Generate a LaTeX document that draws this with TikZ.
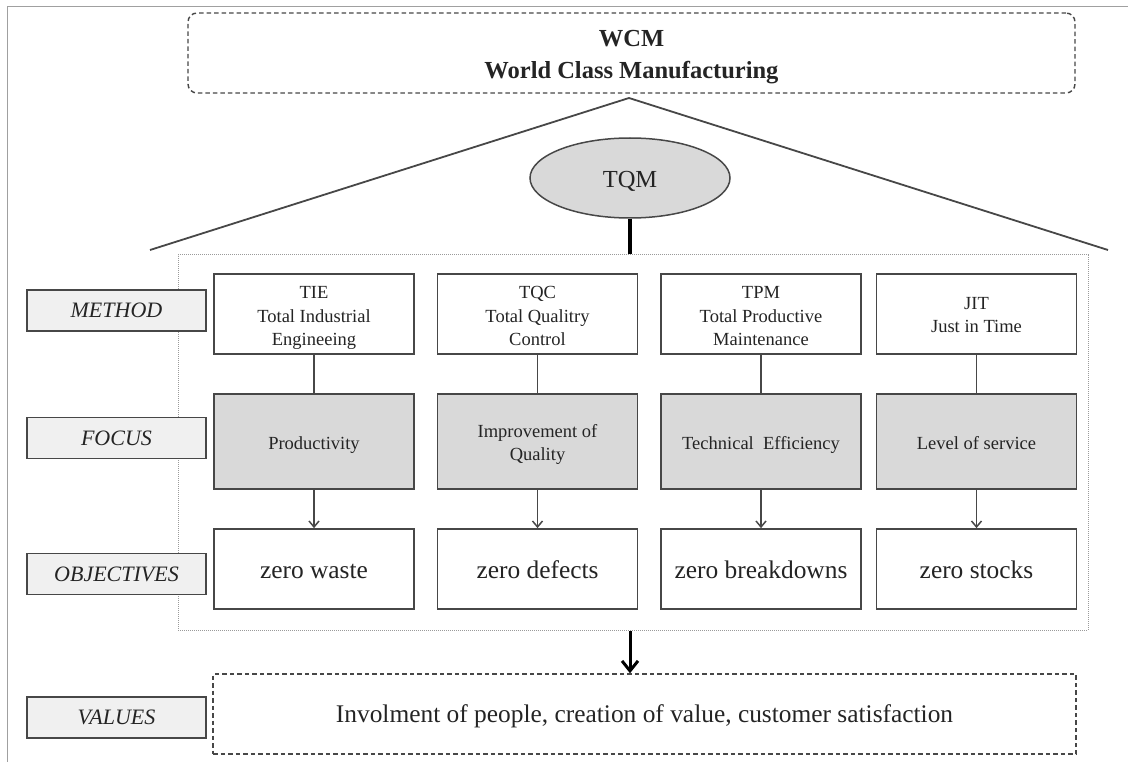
\documentclass[tikz,border=0pt]{standalone}
\usepackage{fontspec}
\setmainfont{Liberation Serif}
\usetikzlibrary{shapes.geometric,arrows.meta}
\definecolor{edge}{HTML}{474747}
\definecolor{ink}{HTML}{242424}
\definecolor{focusfill}{HTML}{D9D9D9}
\definecolor{labelfill}{HTML}{F0F0F0}
\definecolor{framegray}{HTML}{9A9A9A}
\definecolor{pagegray}{HTML}{A0A0A0}

% centred lines of box text, set a little below the box centre
\newcommand\boxlines[2][3pt]{%
  \raisebox{-#1}[\height][\depth]{\begin{tabular}{@{}c@{}}#2\end{tabular}}}

\begin{document}
\begin{tikzpicture}[x=1pt,y=-1pt,
  every node/.style={text=ink},
  methodbox/.style={draw=edge, line width=1.7pt, fill=white,
    minimum width=200pt, minimum height=80pt, inner sep=0pt,
    font=\fontsize{18.5}{23.5}\selectfont},
  focusbox/.style={methodbox, fill=focusfill, minimum height=95pt},
  objbox/.style={methodbox, font=\fontsize{25.4}{30}\selectfont},
  rowlabel/.style={draw=edge, line width=1.7pt, fill=labelfill,
    minimum width=179pt, minimum height=41pt, inner sep=0pt,
    font=\fontsize{22}{26}\selectfont\itshape},
  dashbox/.style={draw=edge, line width=1.4pt, dash pattern=on 4.5pt off 3pt},
  link/.style={draw=edge, line width=1.5pt},
  flow/.style={link, -{Straight Barb[length=6pt,width=10pt]}},
  roofline/.style={draw=edge, line width=1.8pt},
  titlefont/.style={font=\fontsize{24.5}{31}\selectfont\bfseries},
]
\useasboundingbox (0,0) rectangle (1128,762);

% page edge rules
\draw[pagegray, line width=1pt] (7,762) -- (7,7) -- (1128,7);

% title banner
\node[dashbox, rounded corners=9pt, minimum width=887pt, minimum height=80pt]
  (wcm) at (631.5,53) {};
\node[titlefont, anchor=base] (wcmshort) at (631.5,47) {WCM};
\node[titlefont, anchor=base] (wcmlong) at (631.5,78.5) {World Class Manufacturing};

% roof
\coordinate (apex) at (629,98);
\coordinate (eaveL) at (150,250);
\coordinate (eaveR) at (1108,250);
\draw[roofline] (eaveL) -- (apex) -- (eaveR);

% house body
\node[draw=framegray, line width=1pt, dash pattern=on 1pt off 1pt,
  minimum width=910pt, minimum height=375pt, inner sep=0pt] (frame) at (633,442.5) {};

% TQM
\node[ellipse, draw=edge, line width=1.5pt, fill=focusfill,
  minimum width=200pt, minimum height=80pt, inner sep=0pt,
  font=\fontsize{24.5}{28}\selectfont] (tqm) at (630,178) {\boxlines[3.5pt]{TQM}};
\draw[black, line width=3.5pt] (tqm.south) -- (tqm.south |- frame.north);

% methods
\node[methodbox] (m1) at (314,314)   {\boxlines[3.4pt]{TIE\\Total Industrial\\Engineeing}};
\node[methodbox] (m2) at (537.5,314) {\boxlines[3.4pt]{TQC\\Total Qualitry\\Control}};
\node[methodbox] (m3) at (761,314)   {\boxlines[3.4pt]{TPM\\Total Productive\\Maintenance}};
\node[methodbox] (m4) at (976.5,314) {\boxlines[2.4pt]{JIT\\Just in Time}};

% focus
\node[focusbox] (f1) at (314,441.5)   {\boxlines{Productivity}};
\node[focusbox] (f2) at (537.5,441.5) {\boxlines{Improvement of\\Quality}};
\node[focusbox] (f3) at (761,441.5)   {\boxlines{Technical\ \ Efficiency}};
\node[focusbox] (f4) at (976.5,441.5) {\boxlines{Level of service}};

% objectives
\node[objbox] (o1) at (314,569)   {\boxlines{zero waste}};
\node[objbox] (o2) at (537.5,569) {\boxlines{zero defects}};
\node[objbox] (o3) at (761,569)   {\boxlines{zero breakdowns}};
\node[objbox] (o4) at (976.5,569) {\boxlines{zero stocks}};

\foreach \i in {1,2,3,4}{
  \draw[link] (m\i) -- (f\i);
  \draw[flow] (f\i) -- (o\i);
}

% values
\node[dashbox, minimum width=863pt, minimum height=80pt, inner sep=0pt,
  font=\fontsize{25.4}{30}\selectfont] (values) at (644.5,714)
  {\boxlines[2pt]{Involment of people, creation of value, customer satisfaction}};
\draw[black, line width=3pt, -{Straight Barb[length=10pt,width=16pt]}]
  (tqm |- frame.south) -- (tqm |- values.north);

% row labels
\node[rowlabel] (lmethod) at (116.5,310.5) {METHOD};
\node[rowlabel] (lfocus)  at (116.5,438)   {FOCUS};
\node[rowlabel] (lobj)    at (116.5,574)   {OBJECTIVES};
\node[rowlabel] (lvalues) at (116.5,717.5) {VALUES};
\end{tikzpicture}
\end{document}
